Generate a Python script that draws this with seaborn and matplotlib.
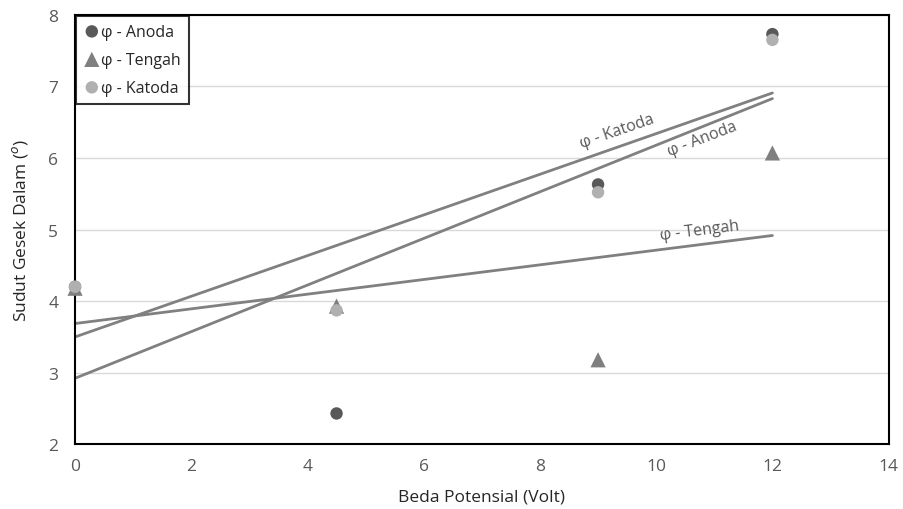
import seaborn as sns
import matplotlib.pyplot as plt
import pandas as pd

# Sudut gesek dalam vs beda potensial
volt = [0, 4.5, 9, 12]
anoda = [4.20, 2.43, 5.63, 7.73]
tengah = [4.18, 3.93, 3.18, 6.07]
katoda = [4.20, 3.87, 5.52, 7.65]

df = pd.DataFrame({'volt': volt * 3,
                   'phi': anoda + tengah + katoda,
                   'posisi': ['Anoda'] * 4 + ['Tengah'] * 4 + ['Katoda'] * 4})

sns.set_style("white")
plt.rcParams['font.family'] = ['Open Sans', 'DejaVu Sans']

fig = plt.figure(figsize=(9.04, 5.10), dpi=100)
ax = fig.add_axes([0.083, 0.127, 0.9, 0.842])

warna = {'Anoda': '#595959', 'Tengah': '#7f7f7f', 'Katoda': '#b0b0b0'}
marker = {'Anoda': 'o', 'Tengah': '^', 'Katoda': 'o'}
ukuran = {'Anoda': 80, 'Tengah': 120, 'Katoda': 80}

# trend lines first so the markers sit on top
for p in ['Anoda', 'Tengah', 'Katoda']:
    sub = df[df.posisi == p]
    sns.regplot(data=sub, x='volt', y='phi', ax=ax, scatter=False, ci=None,
                line_kws={'color': '#808080', 'lw': 2, 'zorder': 2})

for p in ['Anoda', 'Tengah', 'Katoda']:
    sub = df[df.posisi == p]
    sns.scatterplot(data=sub, x='volt', y='phi', ax=ax, color=warna[p], marker=marker[p],
                    s=ukuran[p], edgecolor='none', label='φ - ' + p, zorder=3, clip_on=False)

ax.text(9.33, 6.38, 'φ - Katoda', rotation=19, ha='center', va='center', fontsize=11.5, color='#595959')
ax.text(10.8, 6.27, 'φ - Anoda', rotation=21, ha='center', va='center', fontsize=11.5, color='#595959')
ax.text(10.75, 4.99, 'φ - Tengah', rotation=7, ha='center', va='center', fontsize=11.5, color='#595959')

ax.set_xlim(0, 14)
ax.set_ylim(2, 8)
ax.set_xticks(range(0, 15, 2))
ax.set_yticks(range(2, 9))
ax.yaxis.grid(True, color='#d9d9d9', lw=1)
ax.set_axisbelow(True)
ax.tick_params(labelsize=12.5, labelcolor='#595959', length=0)
ax.tick_params(axis='x', pad=10)
ax.tick_params(axis='y', pad=12)
for s in ax.spines.values():
    s.set_color('black')
    s.set_linewidth(1.5)

ax.set_xlabel('Beda Potensial (Volt)', fontsize=12.5, labelpad=10)
ax.set_ylabel('Sudut Gesek Dalam ($^{o}$)', fontsize=12.5, labelpad=13)

leg = ax.legend(loc='upper left', fontsize=11.5, frameon=True, fancybox=False,
                borderaxespad=0.05, handletextpad=0.1, borderpad=0.5, labelspacing=0.75,
                handlelength=1.0)
leg.get_frame().set_edgecolor('black')
leg.get_frame().set_linewidth(1.5)

fig.savefig('out.png', dpi=100)
